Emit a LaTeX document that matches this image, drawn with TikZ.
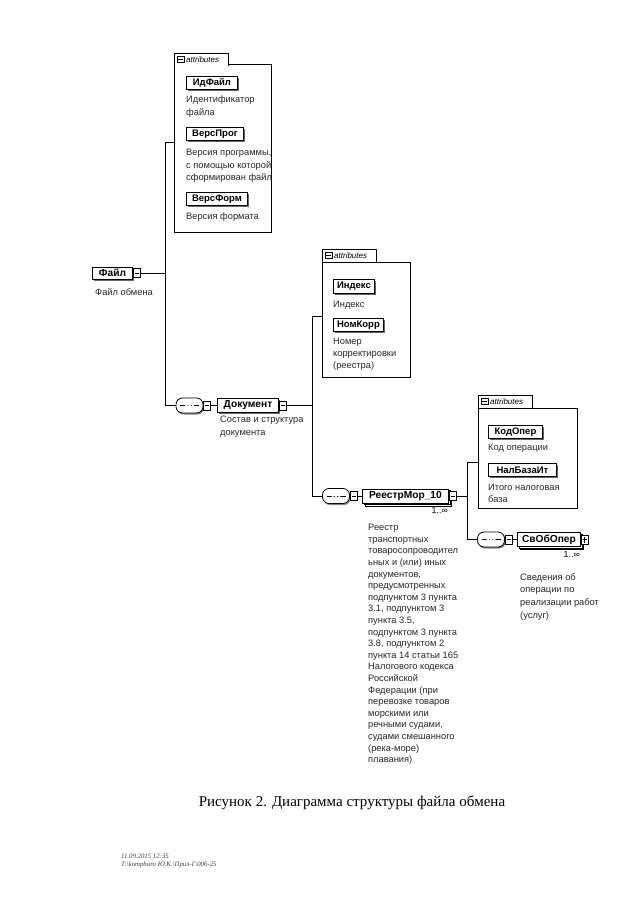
\documentclass[tikz,border=0pt]{standalone}
\usepackage{fontspec}
\setmainfont{Liberation Serif}
\setsansfont{Liberation Sans}
\usetikzlibrary{shadows}
\begin{document}
\begin{tikzpicture}[x=1pt,y=-1pt,
  every node/.style={inner sep=0pt},
  conn/.style={line width=0.8pt},
  desc/.style={font=\sffamily\fontsize{9.3}{12.5}\selectfont, align=left, anchor=north west, text=black!85},
  elemfont/.style={font=\sffamily\bfseries\fontsize{10.2}{12}\selectfont},
  elem/.style={elemfont, draw, fill=white, line width=0.9pt, minimum height=14pt, anchor=west,
    drop shadow={shadow xshift=1.2pt, shadow yshift=-1.6pt, fill=black!60, opacity=1}},
  multi/.style={elemfont, draw, fill=white, line width=0.9pt, minimum height=14pt, anchor=west,
    double copy shadow={shadow xshift=1.6pt, shadow yshift=-1.6pt}},
  attr/.style={font=\sffamily\bfseries\fontsize{9.5}{11}\selectfont, draw, fill=white, line width=0.9pt,
    minimum height=13pt, anchor=north west,
    drop shadow={shadow xshift=1.3pt, shadow yshift=-1.3pt, fill=black!60, opacity=1}},
  tog/.style={draw, fill=white, line width=0.6pt, minimum width=7pt, minimum height=9pt, anchor=west,
    path picture={\draw[line width=0.6pt] ([xshift=1.5pt]path picture bounding box.west) -- ([xshift=-1.5pt]path picture bounding box.east);}},
  togplus/.style={draw, fill=white, line width=0.6pt, minimum width=7pt, minimum height=9pt, anchor=west,
    path picture={\draw[line width=0.6pt] ([xshift=1.5pt]path picture bounding box.west) -- ([xshift=-1.5pt]path picture bounding box.east);
      \draw[line width=0.6pt] ([yshift=-1.5pt]path picture bounding box.north) -- ([yshift=1.5pt]path picture bounding box.south);}},
  tabicon/.style={draw, fill=white, line width=0.5pt, minimum width=6.5pt, minimum height=6.5pt, anchor=west,
    path picture={\draw[line width=0.5pt] ([xshift=1.2pt]path picture bounding box.west) -- ([xshift=-1.2pt]path picture bounding box.east);}},
  seq/.style={draw, fill=white, line width=0.8pt, rounded corners=6.5pt, minimum width=27pt, minimum height=15pt,
    drop shadow={shadow xshift=1pt, shadow yshift=-1.5pt, fill=black!50, opacity=1},
    path picture={\draw[line width=0.6pt] ([xshift=4pt]path picture bounding box.west) -- ([xshift=-4pt]path picture bounding box.east);
      \foreach \d in {-3.2,0,3.2} \fill ([xshift=\d pt]path picture bounding box.center) circle (1.3pt);}},
  cont/.style={draw, fill=white, line width=0.8pt, anchor=north west,
    drop shadow={shadow xshift=1pt, shadow yshift=-1pt, fill=black!40, opacity=1}},
  tabst/.style={fill=white, anchor=north west, minimum width=54pt, minimum height=12.5pt},
  tabtext/.style={font=\sffamily\itshape\fontsize{8}{9}\selectfont, anchor=west},
  mult/.style={font=\sffamily\fontsize{8.8}{10}\selectfont, anchor=north east},
]
\useasboundingbox[fill=white] (0,0) rectangle (640,905);

% ---------- containers ----------
\node[cont, minimum width=97pt, minimum height=168pt] (cont1) at (174,64) {};
\node[tabst] (tab1) at (174,53) {};
\draw[conn] (tab1.south west) -- (tab1.north west) -- (tab1.north east) -- (tab1.south east);
\node[tabicon] (ti1) at ([xshift=3pt]tab1.west) {};
\node[tabtext] (tt1) at ([xshift=2pt]ti1.east) {attributes};

\node[cont, minimum width=88pt, minimum height=115pt] (cont2) at (322,262) {};
\node[tabst] (tab2) at (322,249) {};
\draw[conn] (tab2.south west) -- (tab2.north west) -- (tab2.north east) -- (tab2.south east);
\node[tabicon] (ti2) at ([xshift=3pt]tab2.west) {};
\node[tabtext] (tt2) at ([xshift=2pt]ti2.east) {attributes};

\node[cont, minimum width=99pt, minimum height=100pt] (cont3) at (478,408) {};
\node[tabst] (tab3) at (478,395) {};
\draw[conn] (tab3.south west) -- (tab3.north west) -- (tab3.north east) -- (tab3.south east);
\node[tabicon] (ti3) at ([xshift=3pt]tab3.west) {};
\node[tabtext] (tt3) at ([xshift=2pt]ti3.east) {attributes};

% ---------- attributes ----------
\node[attr, minimum width=51pt] (a1) at (186,76) {ИдФайл};
\node[desc] (d1) at (186,96) {Идентификатор\\файла};
\node[attr, minimum width=57pt] (a2) at (186,127) {ВерсПрог};
\node[desc] (d2) at (186,149) {Версия программы,\\с помощью которой\\сформирован файл};
\node[attr, minimum width=61pt] (a3) at (186,192) {ВерсФорм};
\node[desc] (d3) at (186,213) {Версия формата};

\node[attr, minimum width=41pt, minimum height=14pt] (b1) at (333,279) {Индекс};
\node[desc] (e1) at (333,301) {Индекс};
\node[attr, minimum width=50pt] (b2) at (333,318) {НомКорр};
\node[desc, font=\sffamily\fontsize{9.3}{12}\selectfont] (e2) at (333,338) {Номер\\корректировки\\(реестра)};

\node[attr, minimum width=54pt] (c1) at (488,425) {КодОпер};
\node[desc] (f1) at (488,444) {Код операции};
\node[attr, minimum width=68pt] (c2) at (488,463) {НалБазаИт};
\node[desc, font=\sffamily\fontsize{9.3}{12}\selectfont] (f2) at (488,484) {Итого налоговая\\база};

% ---------- elements ----------
\node[elem, minimum width=40pt, minimum height=12pt] (file) at (92,273) {Файл};
\node[tog] (fileico) at (file.east) {};
\node[desc] (filedesc) at (95,288) {Файл обмена};

\node[seq] (seq1) at (189.5,405.5) {};
\node[tog] (seq1ico) at (seq1.east) {};
\node[elem, minimum width=61pt] (doc) at (217,405.5) {Документ};
\node[tog] (docico) at (doc.east) {};
\node[desc] (docdesc) at (220,416) {Состав и структура\\документа};

\node[seq] (seq2) at (336,496) {};
\node[tog] (seq2ico) at (seq2.east) {};
\node[multi, minimum width=86pt] (reg) at (362,496) {РеестрМор\_10};
\node[tog] (regico) at (reg.east) {};
\node[mult] (regmult) at (448,507.5) {1..∞};
\node[desc, font=\sffamily\fontsize{9.3}{11.6}\selectfont] (regdesc) at (368,524) {Реестр\\транспортных\\товаросопроводител\\ьных и (или) иных\\документов,\\предусмотренных\\подпунктом 3 пункта\\3.1, подпунктом 3\\пункта 3.5,\\подпунктом 3 пункта\\3.8, подпунктом 2\\пункта 14 статьи 165\\Налогового кодекса\\Российской\\Федерации (при\\перевозке товаров\\морскими или\\речными судами,\\судами смешанного\\(река-море)\\плавания)};

\node[seq] (seq3) at (491,539.5) {};
\node[tog] (seq3ico) at (seq3.east) {};
\node[multi, minimum width=63pt] (svo) at (517,539.5) {СвОбОпер};
\node[togplus] (svoico) at (svo.east) {};
\node[mult] (svomult) at (580,551.5) {1..∞};
\node[desc, font=\sffamily\fontsize{9.3}{12.7}\selectfont] (svodesc) at (520,573) {Сведения об\\операции по\\реализации работ\\(услуг)};

% ---------- connectors ----------
\coordinate (j1) at (165,142);
\coordinate (j2) at (312,316);
\coordinate (j3) at (467,462);
\draw[conn] (cont1.west |- j1) -- (j1) |- (seq1.west);
\draw[conn] (fileico.east) -- (fileico.east -| j1);
\draw[conn] (seq1ico.east) -- (doc.west);

\draw[conn] (cont2.west |- j2) -- (j2) |- (seq2.west);
\draw[conn] (docico.east) -- (docico.east -| j2);
\draw[conn] (seq2ico.east) -- (reg.west);

\draw[conn] (cont3.west |- j3) -- (j3) |- (seq3.west);
\draw[conn] (regico.east) -- (regico.east -| j3);
\draw[conn] (seq3ico.east) -- (svo.west);

% ---------- caption & footer ----------
\node[font=\fontsize{15}{18}\selectfont] (caption) at (352,803) {Рисунок 2. Диаграмма структуры файла обмена};
\node[font=\itshape\fontsize{6.8}{8}\selectfont, align=left, anchor=north west, text=black!75] (footer) at (121,854) {11.09.2015 12:35\\T:\textbackslash kompburo Ю.К.\textbackslash Прил-Г\textbackslash 006-25};
\end{tikzpicture}
\end{document}
